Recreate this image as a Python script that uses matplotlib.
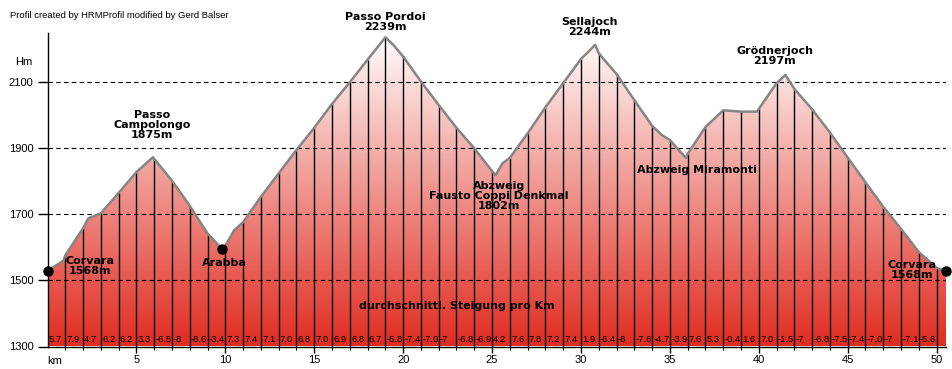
import numpy as np
import matplotlib
matplotlib.use("Agg")
import matplotlib.pyplot as plt
from matplotlib.patches import Polygon

# elevation profile (km, m)
km = [0, 0.9, 1, 2, 2.3, 3, 4, 5, 5.93, 6, 7, 8, 9, 9.8, 10, 10.5, 11, 12, 13,
      14, 15, 16, 17, 18, 19, 19.45, 20, 21, 22, 23, 24, 25, 25.2, 25.6, 26, 27,
      28, 29, 30, 30.8, 31, 31.4, 32, 33, 34, 34.55, 35, 35.9, 36, 37, 38, 39,
      39.9, 41, 41.5, 42, 43, 44, 45, 46, 47, 48, 49, 50, 50.53]
elev = [1529, 1560, 1576, 1658, 1688, 1703, 1765, 1828, 1873, 1868, 1802, 1726,
        1642, 1596, 1605, 1652, 1676, 1753, 1824, 1895, 1962, 2034, 2100, 2168,
        2236, 2213, 2178, 2102, 2031, 1962, 1900, 1831, 1819, 1855, 1871, 1945,
        2024, 2097, 2170, 2213, 2188, 2162, 2125, 2046, 1968, 1940, 1925, 1871,
        1883, 1964, 2015, 2011, 2011, 2097, 2122, 2080, 2018, 1948, 1872, 1797,
        1723, 1656, 1586, 1538, 1529]

# average gradient per km (%)
slopes = ["5.7", "7.9", "4.7", "6.2", "6.2", "3.3", "-6.5", "-8", "-8.6", "-3.4",
          "7.3", "7.4", "7.1", "7.0", "6.8", "7.0", "6.9", "6.8", "6.7", "-5.8",
          "-7.4", "-7.0", "-7", "-6.8", "-6.9", "4.2", "7.6", "7.8", "7.2", "7.4",
          "1.9", "-6.4", "-8", "-7.6", "-4.7", "-3.9", "7.6", "5.3", "-0.4", "1.6",
          "7.0", "-1.5", "-7", "-6.8", "-7.5", "-7.4", "-7.0", "-7", "-7.1", "-5.6"]

places_km = [0, 9.8, 50.53]
places_elev = [1529, 1596, 1529]

y_ticks = [1300, 1500, 1700, 1900, 2100]
x_ticks = [5, 10, 15, 20, 25, 30, 35, 40, 45, 50]

W, H = 952, 369
fig = plt.figure(figsize=(W / 100, H / 100), dpi=100)
ax = fig.add_axes([47.5 / W, 22.5 / H, (946 - 47.5) / W, 313.5 / H])
xmax, ymin, ymax = km[-1], 1300, 2249
ax.set_xlim(0, xmax)
ax.set_ylim(ymin, ymax)

# gradient fill clipped to the profile
top = np.array([255, 255, 255]) / 255
bot = np.array([224, 44, 32]) / 255
t = np.linspace(0, 1, 256)[:, None]
grad = (bot * (1 - t) + top * t)[:, None, :]
im = ax.imshow(grad, extent=[0, xmax, ymin, ymax], origin="lower",
               aspect="auto", zorder=0)
verts = [(km[0], ymin)] + list(zip(km, elev)) + [(km[-1], ymin)]
poly = Polygon(verts, closed=True, facecolor="none", edgecolor="none")
ax.add_patch(poly)
im.set_clip_path(poly)

marks = np.arange(1, 51)
ax.vlines(marks, ymin, np.interp(marks, km, elev), color="black", lw=1, zorder=2)
ax.plot(km, elev, color="#858585", lw=1.8, zorder=3, solid_joinstyle="round")
ax.plot(places_km, places_elev, "o", color="black", ms=6.5, zorder=4, clip_on=False)

for i, s in enumerate(slopes):
    ax.text(i + 0.07, 1322, s, fontsize=6.8, family="Liberation Sans",
            ha="left", va="center", zorder=5)

ax.set_axisbelow(False)
ax.yaxis.grid(True, linestyle=(0, (4, 3)), color="black", lw=0.8)
ax.xaxis.grid(False)
for side in ["top", "right"]:
    ax.spines[side].set_visible(False)
ax.spines["left"].set_linewidth(1)
ax.spines["bottom"].set_linewidth(1)
ax.set_yticks(y_ticks)
ax.set_yticklabels([str(v) for v in y_ticks])
ax.set_xticks(x_ticks)
ax.set_xticks(np.arange(1, 51), minor=True)
ax.tick_params(axis="y", direction="out", length=7, width=1, pad=3,
               labelsize=8, labelfontfamily="Liberation Sans")
ax.tick_params(axis="x", which="major", direction="out", length=4, width=1,
               pad=2, labelsize=8, labelfontfamily="Liberation Sans")
ax.tick_params(axis="x", which="minor", direction="out", length=2, width=0.8)

bold = dict(fontsize=8, fontweight="bold", family="DejaVu Sans", ha="center",
            va="center", linespacing=1.0, clip_on=False, zorder=6)
ax.text(5.88, 1970, "Passo\nCampolongo\n1875m", **bold)
ax.text(19.0, 2283, "Passo Pordoi\n2239m", **bold)
ax.text(30.5, 2266, "Sellajoch\n2244m", **bold)
ax.text(40.9, 2180, "Grödnerjoch\n2197m", **bold)
ax.text(25.4, 1755, "Abzweig\nFausto Coppi Denkmal\n1802m", **bold)
ax.text(36.5, 1834, "Abzweig Miramonti", **bold)
ax.text(2.4, 1543, "Corvara\n1568m", **bold)
ax.text(9.93, 1552, "Arabba", **bold)
ax.text(48.6, 1531, "Corvara\n1568m", **bold)
ax.text(23.0, 1422, "durchschnittl. Steigung pro Km", **bold)

fig.text(47 / W, 1 - 361 / H, "km", fontsize=8, family="Liberation Sans",
         ha="left", va="center")
fig.text(24 / W, 1 - 62 / H, "Hm", fontsize=8, family="Liberation Sans",
         ha="center", va="center")
fig.text(10 / W, 1 - 15 / H, "Profil created by HRMProfil modified by Gerd Balser",
         fontsize=6.8, family="Liberation Sans", ha="left", va="center")

fig.savefig("out.png", dpi=100)
